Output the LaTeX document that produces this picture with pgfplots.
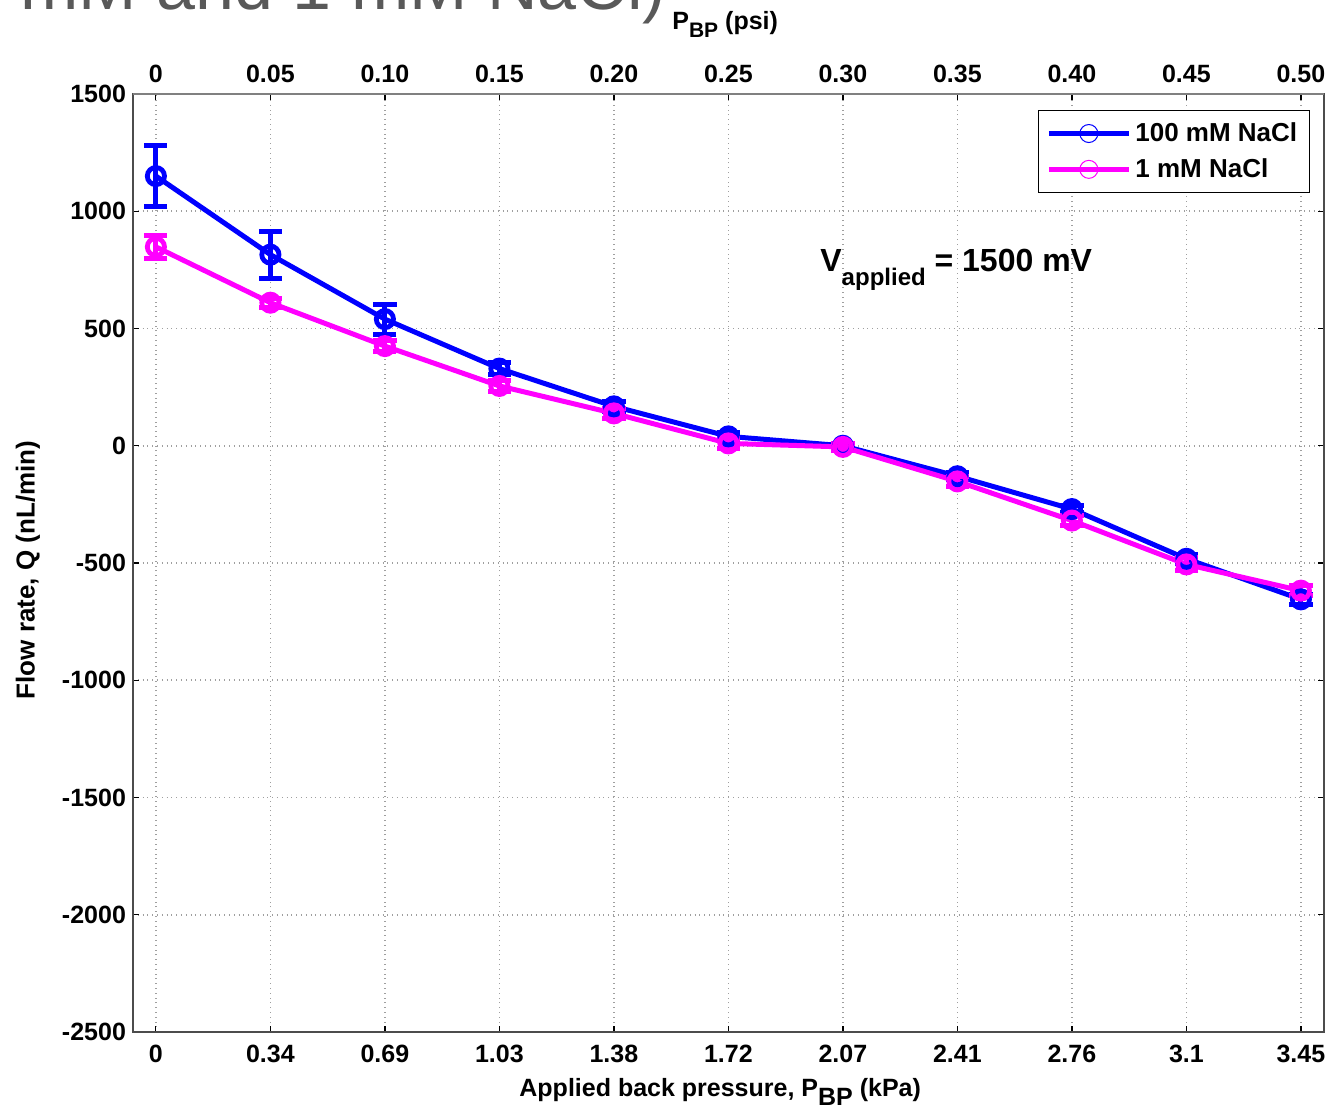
\documentclass[border=0pt]{standalone}
\usepackage{pgfplots}
\pgfplotsset{compat=1.18}
\usepackage{fontspec}
\setmainfont{Liberation Sans}
\definecolor{mblue}{RGB}{0,0,255}
\definecolor{mmag}{RGB}{255,0,255}
\newcommand{\tickfont}{\bfseries\fontsize{12.5}{15}\selectfont}

\pgfplotstableread{
x y e
0 1150 130
1 815 100
2 540 64
3 329 25
4 168 20
5 40 18
6 0 10
7 -130 15
8 -270 15
9 -482 20
10 -655 20
}\tblue
\pgfplotstableread{
x y e
0 848 50
1 610 20
2 425 25
3 255 25
4 138 20
5 10 20
6 -5 15
7 -152 20
8 -319 20
9 -506 28
10 -618 20
}\tmag

\begin{document}
\begin{tikzpicture}
\begin{axis}[name=main, scale only axis, width=595.4pt, height=469pt,
  xmin=-0.2, xmax=10.2, ymin=-2500, ymax=1500,
  xtick={0,...,10},
  xticklabels={0,0.34,0.69,1.03,1.38,1.72,2.07,2.41,2.76,3.1,3.45},
  ytick={-2500,-2000,-1500,-1000,-500,0,500,1000,1500},
  yticklabels={-2500,-2000,-1500,-1000,-500,0,500,1000,1500},
  ticklabel style={font=\tickfont},
  xticklabel style={yshift=-3pt},
  tick align=inside, major tick length=3pt, tick style={black, line width=0.6pt},
  grid=major, major grid style={gray!75, dotted, line width=0.8pt},
  axis line style={black!70, line width=0.9pt},
  legend style={at={(1,1)}, anchor=north east, xshift=-7pt, yshift=-8pt,
    draw=black, line width=0.6pt, font=\bfseries\fontsize{13}{15}\selectfont,
    row sep=3pt, inner xsep=4pt, inner ysep=4pt},
  legend cell align=left,
  legend image code/.code={
    \draw[#1, mark=none, line width=2.5pt] (0pt,0pt) -- (40pt,0pt);
    \draw[#1, line width=0.5pt] (20pt,0pt) circle (4.5pt);
  },
]
\addplot[mblue, line width=2.5pt, mark=o, mark size=4.3pt, mark options={line width=2.4pt, solid},
  error bars/.cd, y dir=both, y explicit,
  error bar style={line width=2.5pt, mblue},
  error mark options={rotate=90, mark size=5.8pt, line width=2.5pt, mblue}]
  table[x=x, y=y, y error=e] {\tblue};
\addlegendentry{100 mM NaCl}
\addplot[mmag, line width=2.5pt, mark=o, mark size=4.3pt, mark options={line width=2.4pt, solid},
  error bars/.cd, y dir=both, y explicit,
  error bar style={line width=2.5pt, mmag},
  error mark options={rotate=90, mark size=5.8pt, line width=2.5pt, mmag}]
  table[x=x, y=y, y error=e] {\tmag};
\addlegendentry{1 mM NaCl}
\end{axis}
\begin{axis}[at={(main.south west)}, anchor=south west, scale only axis,
  width=595.4pt, height=469pt, xmin=-0.2, xmax=10.2, ymin=0, ymax=1,
  axis x line*=top, axis y line=none,
  xtick={0,...,10},
  xticklabels={0,0.05,0.10,0.15,0.20,0.25,0.30,0.35,0.40,0.45,0.50},
  ticklabel style={font=\tickfont}, xticklabel style={yshift=2pt}, major tick length=0pt,
  axis line style={black!50, line width=1pt}]
\end{axis}
% title (cut off at top, as in the reference)
\node[anchor=base west, inner sep=0pt, text=black!65, font=\fontsize{35}{40}\selectfont]
  at ([shift={(-56.5pt,511pt)}]main.south west) {mM and 1 mM NaCl)};
% top axis label
\node[anchor=base west, inner sep=0pt, font=\bfseries\fontsize{12.5}{15}\selectfont]
  at ([shift={(269.5pt,501pt)}]main.south west) {P\raisebox{-4pt}{\fontsize{10.5}{12}\selectfont BP} (psi)};
% bottom axis label
\node[anchor=base west, inner sep=0pt, font=\bfseries\fontsize{12.5}{15}\selectfont]
  at ([shift={(193pt,-32.5pt)}]main.south west) {Applied back pressure, P\raisebox{-4.5pt}{BP} (kPa)};
% y label
\node[rotate=90, anchor=center, inner sep=0pt, font=\bfseries\fontsize{13}{15}\selectfont]
  at ([shift={(-52.5pt,231pt)}]main.south west) {Flow rate, Q (nL/min)};
% V applied annotation
\node[anchor=base west, inner sep=0pt, font=\bfseries\fontsize{16}{18}\selectfont]
  at ([shift={(343.5pt,380pt)}]main.south west) {V\raisebox{-7pt}{\fontsize{12}{14}\selectfont applied} = 1500 mV};
\pgfresetboundingbox
\useasboundingbox ([shift={(-66.5pt,-38pt)}]main.south west) rectangle ++(664.5pt,554pt);
\end{tikzpicture}
\end{document}
